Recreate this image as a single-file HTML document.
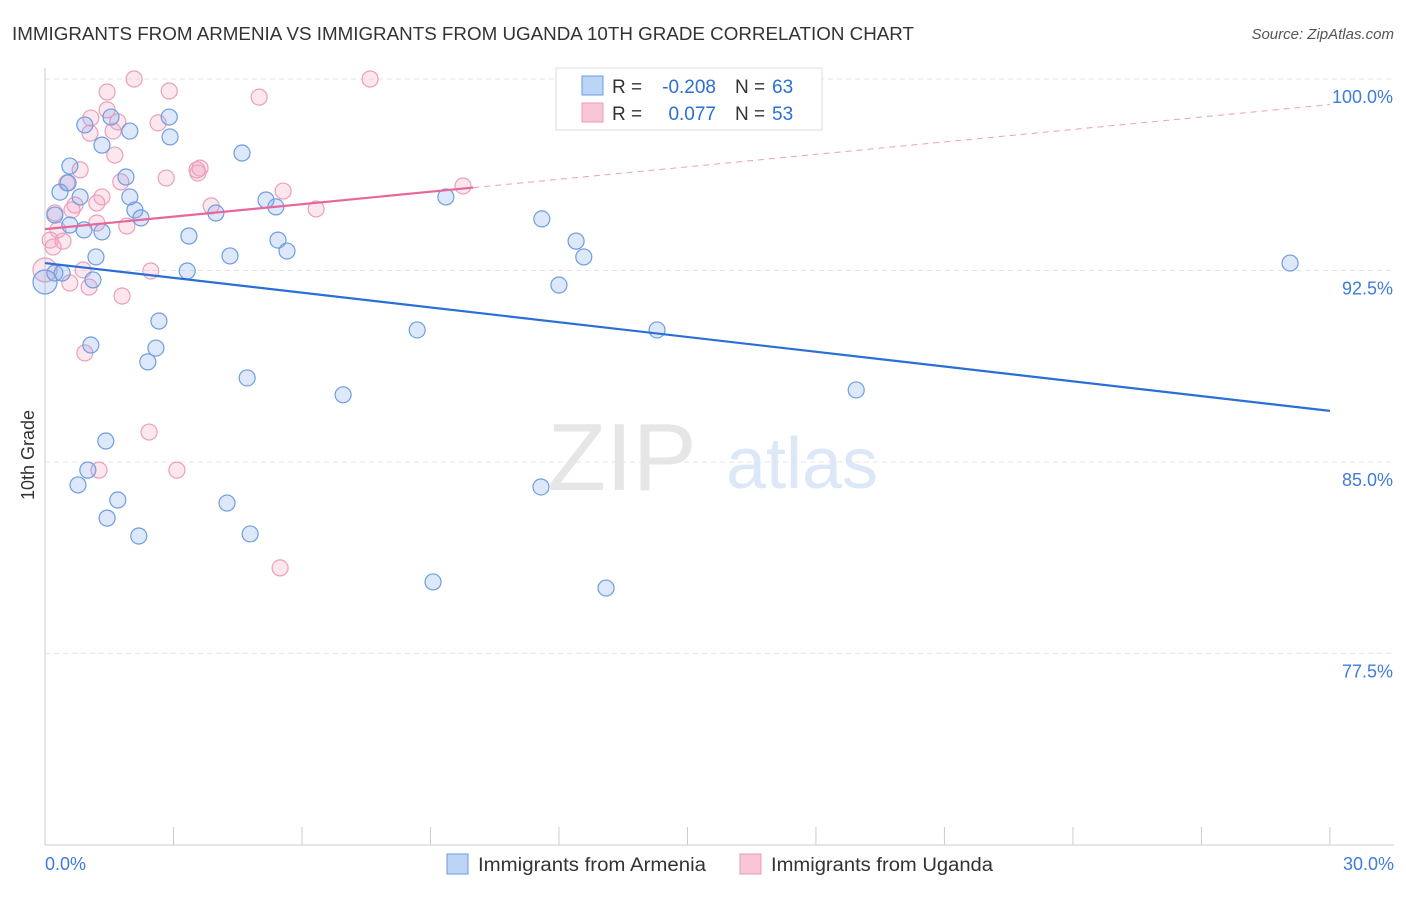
<!DOCTYPE html>
<html><head><meta charset="utf-8"><style>
body{margin:0;background:#fff;font-family:"Liberation Sans",sans-serif;}
svg text{font-family:"Liberation Sans",sans-serif;}
</style></head><body>
<svg id="chart" width="1406" height="892" viewBox="0 0 1406 892" xmlns="http://www.w3.org/2000/svg">
<text x="12" y="40" font-size="18" fill="#333" textLength="902" lengthAdjust="spacingAndGlyphs">IMMIGRANTS FROM ARMENIA VS IMMIGRANTS FROM UGANDA 10TH GRADE CORRELATION CHART</text>
<text x="1394" y="39" font-size="15" fill="#555" text-anchor="end" font-style="italic">Source: ZipAtlas.com</text>
<text x="622" y="490" font-size="96" fill="#e6e6e6" font-family="Liberation Serif" text-anchor="middle">ZIP</text>
<text x="802" y="488" font-size="72" fill="#dce8f8" text-anchor="middle">atlas</text>
<g id="grid"></g><g id="axes"></g><g id="marks"></g>
<text transform="translate(34,455) rotate(-90)" font-size="18" fill="#333" text-anchor="middle">10th Grade</text>
<g>
<rect x="556" y="68" width="266" height="62" fill="#fff" stroke="#ddd"/>
<rect x="582" y="76" width="21" height="19" fill="#bcd4f6" stroke="#6b9be0"/>
<text x="612" y="93" font-size="19" fill="#333">R =</text>
<text x="716" y="93" font-size="19" fill="#2a6fd6" text-anchor="end">-0.208</text>
<text x="735" y="93" font-size="19" fill="#333">N =</text>
<text x="772" y="93" font-size="19" fill="#2a6fd6">63</text>
<rect x="582" y="103" width="21" height="19" fill="#f9c6d6" stroke="#e899b5"/>
<text x="612" y="120" font-size="19" fill="#333">R =</text>
<text x="716" y="120" font-size="19" fill="#2a6fd6" text-anchor="end">0.077</text>
<text x="735" y="120" font-size="19" fill="#333">N =</text>
<text x="772" y="120" font-size="19" fill="#2a6fd6">53</text>
</g>
<g>
<rect x="447" y="854" width="21" height="20" fill="#bcd4f6" stroke="#6b9be0"/>
<text x="478" y="871" font-size="19" fill="#333" textLength="228" lengthAdjust="spacingAndGlyphs">Immigrants from Armenia</text>
<rect x="740" y="854" width="21" height="20" fill="#f9c6d6" stroke="#e899b5"/>
<text x="771" y="871" font-size="19" fill="#333" textLength="222" lengthAdjust="spacingAndGlyphs">Immigrants from Uganda</text>
</g>
</svg>
<script>
const yTicks=[100,92.5,85,77.5];
const yTickLabels=["100.0%","92.5%","85.0%","77.5%"];
const xEndLabels=["0.0%","30.0%"];
const blueX=[0.93,1.54,1.98,2.90,2.92,1.33,0.58,4.60,0.35,0.54,0.82,1.89,1.98,2.10,2.24,0.23,0.58,0.91,1.33,3.99,5.16,5.39,9.36,11.60,12.40,12.58,3.36,4.32,5.44,5.65,1.19,0.23,0.40,1.12,0,3.32,2.66,2.59,2.40,1.07,8.69,14.29,12.00,29.07,4.72,6.96,18.94,1.42,1.00,0.77,1.70,1.45,2.19,4.25,4.79,11.58,9.06,13.10];
const blueY=[98.20,98.51,97.96,98.51,97.73,97.41,96.59,97.10,95.57,95.93,95.38,96.16,95.38,94.87,94.56,94.67,94.28,94.09,94.01,94.75,95.26,94.99,95.38,94.52,93.65,93.03,93.85,93.07,93.69,93.26,93.03,92.40,92.40,92.13,92.05,92.48,90.52,89.46,88.92,89.58,90.17,90.17,91.93,92.79,88.29,87.63,87.82,85.82,84.68,84.10,83.51,82.80,82.10,83.39,82.18,84.02,80.30,80.06];
const pinkX=[2.08,2.90,1.45,7.59,5.00,1.07,1.45,1.70,1.59,2.64,1.05,1.63,0.82,3.55,3.62,3.57,2.83,1.77,0.51,1.33,5.56,9.76,3.88,6.33,1.21,0.70,0.63,0.23,1.21,1.91,0.30,0.12,0.42,0.19,2.47,0.89,0.58,1.03,1.80,0.93,2.43,1.26,3.08,5.49,0];
const pinkY=[100.0,99.53,99.49,100.0,99.29,98.47,98.79,98.32,97.96,98.28,97.88,97.02,96.44,96.44,96.51,96.32,96.12,95.97,95.93,95.38,95.61,95.81,95.03,94.91,95.14,95.06,94.87,94.75,94.36,94.24,94.09,93.69,93.65,93.42,92.48,92.52,92.01,91.85,91.50,89.27,86.17,84.68,84.68,80.85,92.52];
const blueFit=[92.79,87.0];
const pinkFit=[94.12,99.0];
const pinkSolidEnd=10;
const NS="http://www.w3.org/2000/svg";
const xs=v=>45+v*42.83;
const ys=v=>79+(100-v)*25.53;
function mk(t,a,p){const e=document.createElementNS(NS,t);for(const k in a)e.setAttribute(k,a[k]);document.getElementById(p).appendChild(e);return e;}
yTicks.forEach((t,i)=>{
 const g=mk('line',{x1:45,x2:1394,y1:ys(t),y2:ys(t),stroke:'#e4e4e4','stroke-dasharray':'5,4'},'grid');
 
 
 const l=mk('text',{x:1393,y:ys(t)+24,'font-size':18,fill:'#3f7bd9','text-anchor':'end'},'axes');
 l.textContent=yTickLabels[i];
 
 
});
const ya=mk('line',{x1:45,x2:45,y1:68,y2:845,stroke:'#ccc'},'axes');


const xa=mk('line',{x1:45,x2:1394,y1:845,y2:845,stroke:'#ccc'},'axes');


for(let i=0;i<=10;i++){const t=mk('line',{x1:xs(i*3),x2:xs(i*3),y1:827,y2:845,stroke:'#ccc'},'axes');
 
 }
[[0,45,'start'],[30,1394,'end']].forEach((d,i)=>{const l=mk('text',{x:d[1],y:870,'font-size':18,fill:'#3f7bd9','text-anchor':d[2]},'axes');l.textContent=xEndLabels[i];
 
 });
pinkX.forEach((x,i)=>{const big=x===0;const c=mk('circle',{cx:xs(x),cy:ys(pinkY[i]),r:big?12:8,fill:'rgba(244,160,190,0.25)',stroke:'#eaa0bb','stroke-width':1.2},'marks');
 
 });
blueX.forEach((x,i)=>{const big=x===0;const c=mk('circle',{cx:xs(x),cy:ys(blueY[i]),r:big?12:8,fill:'rgba(120,165,235,0.25)',stroke:'#6f9de0','stroke-width':1.2},'marks');
 
 });
const bl=mk('line',{x1:xs(0),y1:ys(blueFit[0]),x2:xs(30),y2:ys(blueFit[1]),stroke:'#2a6fd6','stroke-width':2.2},'marks');


const pAt=x=>pinkFit[0]+(pinkFit[1]-pinkFit[0])*x/30;
const pl=mk('line',{x1:xs(0),y1:ys(pAt(0)),x2:xs(pinkSolidEnd),y2:ys(pAt(pinkSolidEnd)),stroke:'#e8679a','stroke-width':2.2},'marks');


const pd=mk('line',{x1:xs(pinkSolidEnd),y1:ys(pAt(pinkSolidEnd)),x2:xs(30),y2:ys(pAt(30)),stroke:'#eaa0bb','stroke-width':1,'stroke-dasharray':'6,5'},'marks');


</script>
</body></html>
